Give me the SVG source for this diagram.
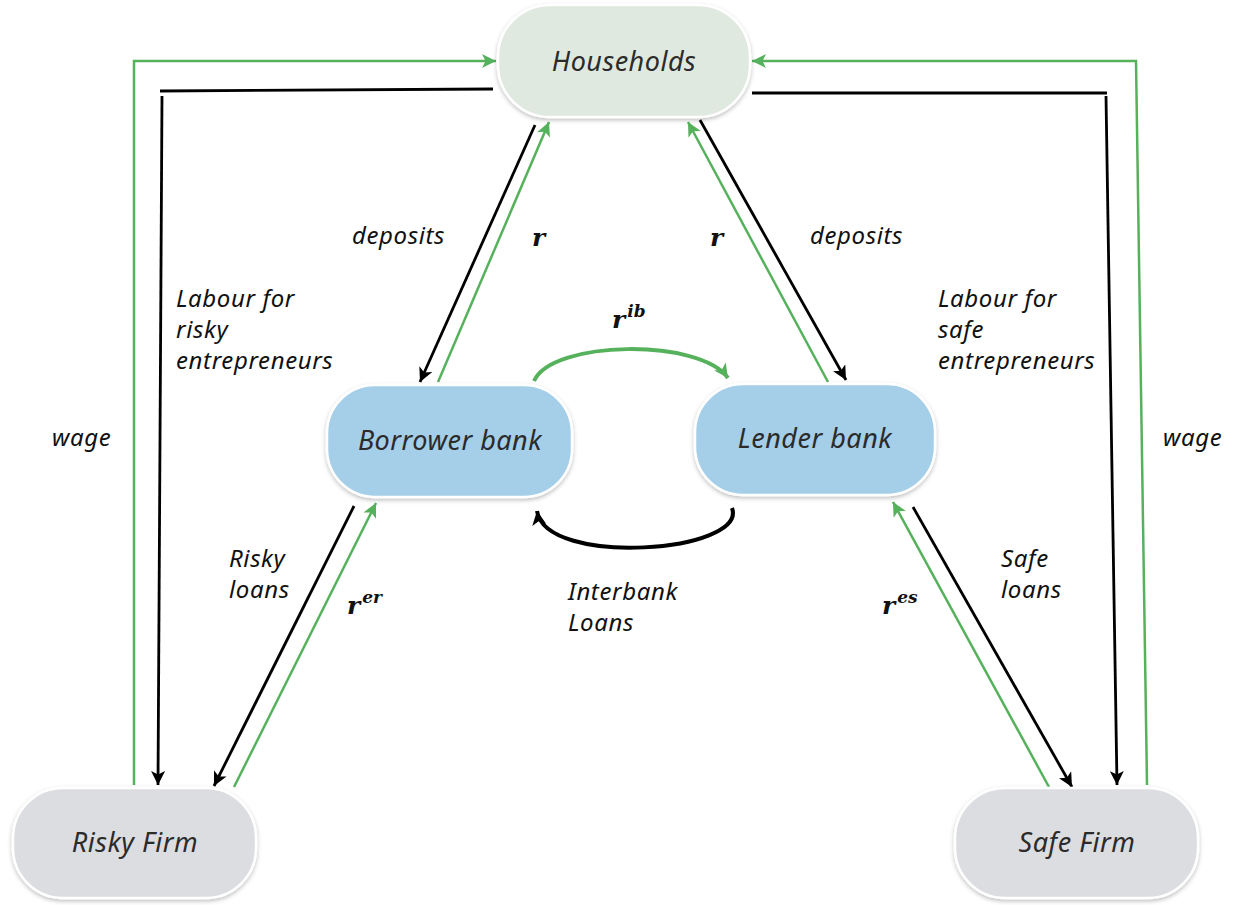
<svg xmlns="http://www.w3.org/2000/svg" width="1236" height="905" viewBox="0 0 1236 905">
<style>
.node{stroke:#ffffff;stroke-width:2.5;filter:url(#sh)}
.nt{font-family:"Noto Sans",Lato,sans-serif;font-style:italic;font-size:27px;letter-spacing:0.5px;fill:#2b2b2b;text-anchor:middle}
.lb{font-family:"Noto Sans",Lato,sans-serif;font-style:italic;font-size:24px;letter-spacing:0.6px;fill:#111}
.mt{font-family:"DejaVu Serif","Liberation Serif",serif;font-style:italic;font-weight:bold;font-size:25px;fill:#111}
.g{fill:none;stroke:#56b15c;stroke-width:2.5}
.k{fill:none;stroke:#000;stroke-width:2.8}
.gc{fill:none;stroke:#56b15c;stroke-width:4}
.kc{fill:none;stroke:#000;stroke-width:4}
</style>
<defs>
<filter id="sh" x="-10%" y="-10%" width="120%" height="130%">
<feDropShadow dx="0" dy="2" stdDeviation="2" flood-color="#000" flood-opacity="0.25"/>
</filter>
<marker id="ag" viewBox="0 0 10 10" refX="10" refY="5" markerWidth="16" markerHeight="14" markerUnits="userSpaceOnUse" orient="auto">
<path d="M0,0 L10,5 L0,10 L2.5,5 Z" fill="#56b15c"/>
</marker>
<marker id="ak" viewBox="0 0 10 10" refX="10" refY="5" markerWidth="16" markerHeight="14" markerUnits="userSpaceOnUse" orient="auto">
<path d="M0,0 L10,5 L0,10 L2.5,5 Z" fill="#000"/>
</marker>
</defs>
<rect width="1236" height="905" fill="#ffffff"/>
<g id="connectors">
<polyline class="g" points="134,785 134,61 496,61" marker-end="url(#ag)"/>
<polyline class="k" points="493,89 160,91"/>
<line class="k" x1="162" y1="96" x2="158" y2="785" marker-end="url(#ak)"/>
<polyline class="g" points="1147,785 1136,61 752,61" marker-end="url(#ag)"/>
<polyline class="k" points="752,93 1107,93"/>
<line class="k" x1="1106" y1="96" x2="1117" y2="785" marker-end="url(#ak)"/>
<line class="k" x1="535" y1="125" x2="420" y2="382" marker-end="url(#ak)"/>
<line class="g" x1="438" y1="382" x2="549" y2="122" marker-end="url(#ag)"/>
<line class="g" x1="828" y1="382" x2="688" y2="122" marker-end="url(#ag)"/>
<line class="k" x1="700" y1="120" x2="846" y2="380" marker-end="url(#ak)"/>
<line class="k" x1="354" y1="506" x2="214" y2="786" marker-end="url(#ak)"/>
<line class="g" x1="234" y1="787" x2="376" y2="503" marker-end="url(#ag)"/>
<line class="k" x1="913" y1="507" x2="1072" y2="787" marker-end="url(#ak)"/>
<line class="g" x1="1049" y1="787" x2="893" y2="502" marker-end="url(#ag)"/>
<path class="gc" d="M534,381 C552,340 700,338 728,378" marker-end="url(#ag)"/>
<path class="kc" d="M732,508 C748,552 546,568 537,511" marker-end="url(#ak)"/>
</g>
<g id="households">
<rect class="node" x="498" y="5" width="252" height="112" rx="52" ry="52" fill="#e0e9df"/>
<text class="nt" x="624" y="71">Households</text>
</g>
<g id="borrower-bank">
<rect class="node" x="327" y="385" width="245" height="112" rx="48" ry="48" fill="#a5cee8"/>
<text class="nt" x="450" y="450">Borrower bank</text>
</g>
<g id="lender-bank">
<rect class="node" x="695" y="384" width="240" height="111" rx="48" ry="48" fill="#a5cee8"/>
<text class="nt" x="815" y="448">Lender bank</text>
</g>
<g id="risky-firm">
<rect class="node" x="13" y="788" width="243" height="110" rx="50" ry="50" fill="#dcdde1"/>
<text class="nt" x="135" y="852">Risky Firm</text>
</g>
<g id="safe-firm">
<rect class="node" x="955" y="788" width="243" height="110" rx="50" ry="50" fill="#dcdde1"/>
<text class="nt" x="1077" y="852">Safe Firm</text>
</g>
<g id="labels">
<text class="lb" x="352" y="244">deposits</text>
<text class="mt" x="532" y="246">r</text>
<text class="mt" x="710" y="246">r</text>
<text class="lb" x="810" y="244">deposits</text>
<text class="lb" x="176" y="307">Labour for</text>
<text class="lb" x="176" y="338">risky</text>
<text class="lb" x="176" y="369">entrepreneurs</text>
<text class="lb" x="938" y="307">Labour for</text>
<text class="lb" x="938" y="338">safe</text>
<text class="lb" x="938" y="369">entrepreneurs</text>
<text class="lb" x="52" y="446">wage</text>
<text class="lb" x="1163" y="446">wage</text>
<text class="mt" x="612" y="328">r<tspan font-size="17" dx="2" dy="-11">ib</tspan></text>
<text class="lb" x="229" y="567">Risky</text>
<text class="lb" x="229" y="598">loans</text>
<text class="mt" x="347" y="614">r<tspan font-size="17" dx="2" dy="-11">er</tspan></text>
<text class="lb" x="568" y="600">Interbank</text>
<text class="lb" x="568" y="631">Loans</text>
<text class="mt" x="882" y="614">r<tspan font-size="17" dx="2" dy="-11">es</tspan></text>
<text class="lb" x="1001" y="567">Safe</text>
<text class="lb" x="1001" y="598">loans</text>
</g>
</svg>
